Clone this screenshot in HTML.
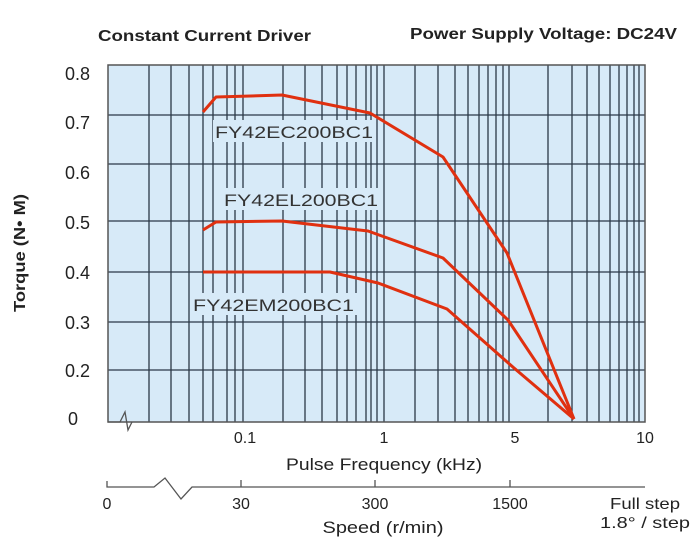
<!DOCTYPE html>
<html><head><style>body{margin:0;background:#fff}svg{display:block}</style></head><body>
<svg width="700" height="560" xmlns="http://www.w3.org/2000/svg" font-family="Liberation Sans, sans-serif">
<rect x="108" y="65" width="537" height="357" fill="#d7eaf8"/>
<g stroke="#2b3847" stroke-width="1.3">
<line x1="108" y1="115" x2="645" y2="115"/><line x1="108" y1="164" x2="645" y2="164"/><line x1="108" y1="221" x2="645" y2="221"/><line x1="108" y1="272" x2="645" y2="272"/><line x1="108" y1="322" x2="645" y2="322"/><line x1="108" y1="370" x2="645" y2="370"/>
<line x1="149" y1="65" x2="149" y2="422"/><line x1="171" y1="65" x2="171" y2="422"/><line x1="189" y1="65" x2="189" y2="422"/><line x1="203" y1="65" x2="203" y2="422"/><line x1="213" y1="65" x2="213" y2="422"/><line x1="227" y1="65" x2="227" y2="422"/><line x1="235" y1="65" x2="235" y2="422"/><line x1="243" y1="65" x2="243" y2="422"/><line x1="283" y1="65" x2="283" y2="422"/><line x1="305" y1="65" x2="305" y2="422"/><line x1="322" y1="65" x2="322" y2="422"/><line x1="337" y1="65" x2="337" y2="422"/><line x1="347" y1="65" x2="347" y2="422"/><line x1="356" y1="65" x2="356" y2="422"/><line x1="366" y1="65" x2="366" y2="422"/><line x1="371" y1="65" x2="371" y2="422"/><line x1="377" y1="65" x2="377" y2="422"/><line x1="384" y1="65" x2="384" y2="422"/><line x1="415" y1="65" x2="415" y2="422"/><line x1="438" y1="65" x2="438" y2="422"/><line x1="455" y1="65" x2="455" y2="422"/><line x1="468" y1="65" x2="468" y2="422"/><line x1="479" y1="65" x2="479" y2="422"/><line x1="488" y1="65" x2="488" y2="422"/><line x1="496" y1="65" x2="496" y2="422"/><line x1="503" y1="65" x2="503" y2="422"/><line x1="509" y1="65" x2="509" y2="422"/><line x1="548" y1="65" x2="548" y2="422"/><line x1="572" y1="65" x2="572" y2="422"/><line x1="587" y1="65" x2="587" y2="422"/><line x1="599" y1="65" x2="599" y2="422"/><line x1="610" y1="65" x2="610" y2="422"/><line x1="619" y1="65" x2="619" y2="422"/><line x1="627" y1="65" x2="627" y2="422"/><line x1="634" y1="65" x2="634" y2="422"/><line x1="639" y1="65" x2="639" y2="422"/>
</g>
<rect x="108" y="65" width="537" height="357" fill="none" stroke="#555" stroke-width="1.5"/>
<path d="M108 422 H120 L125 412 L128 430 L132 422" fill="none" stroke="#555" stroke-width="1.3"/>
<g fill="#d7eaf8">
<rect x="213" y="120" width="162" height="22"/><rect x="222" y="188" width="158" height="22"/><rect x="191" y="293" width="166" height="22"/>
</g>
<g font-size="17" fill="#333">
<text x="215" y="138" textLength="158" lengthAdjust="spacingAndGlyphs">FY42EC200BC1</text><text x="224" y="206" textLength="154" lengthAdjust="spacingAndGlyphs">FY42EL200BC1</text><text x="193" y="311" textLength="161" lengthAdjust="spacingAndGlyphs">FY42EM200BC1</text>
</g>
<g fill="none" stroke="#e03010" stroke-width="3" stroke-linejoin="round">
<polyline points="203,112 216,97 282,95 370,113 443,157 507,253 574,419"/>
<polyline points="203,230 216,222 282,221 368,231 443,258 508,320 574,419"/>
<polyline points="203,272 330,272 378,283 447,309 514,368 574,419"/>
</g>
<g font-size="18" fill="#222" text-anchor="end">
<text x="90" y="80">0.8</text><text x="90" y="129">0.7</text><text x="90" y="179">0.6</text><text x="90" y="229">0.5</text><text x="90" y="279">0.4</text><text x="90" y="329">0.3</text><text x="90" y="377">0.2</text><text x="78" y="425">0</text>
</g>
<g font-size="16" fill="#222" text-anchor="middle">
<text x="245" y="443">0.1</text><text x="384" y="443">1</text><text x="515" y="443">5</text><text x="645" y="443">10</text>
<text x="384" y="470" font-size="17" textLength="196" lengthAdjust="spacingAndGlyphs">Pulse Frequency (kHz)</text>
<text x="107" y="509">0</text><text x="241" y="509">30</text><text x="375" y="509">300</text><text x="510" y="509">1500</text>
<text x="383" y="533" font-size="17" textLength="121" lengthAdjust="spacingAndGlyphs">Speed (r/min)</text>
<text x="645" y="509" textLength="70" lengthAdjust="spacingAndGlyphs">Full step</text><text x="645" y="528" textLength="90" lengthAdjust="spacingAndGlyphs">1.8° / step</text>
</g>
<path d="M107 481 V487 H154 L165 478 L181 499 L192 487 H645 M241 487 V480 M375 487 V480 M510 487 V480" fill="none" stroke="#555" stroke-width="1.3"/>
<text x="98" y="41" font-size="16" font-weight="bold" fill="#222" textLength="213" lengthAdjust="spacingAndGlyphs">Constant Current Driver</text>
<text x="410" y="39" font-size="16" font-weight="bold" fill="#222" textLength="267" lengthAdjust="spacingAndGlyphs">Power Supply Voltage: DC24V</text>
<text transform="translate(25,253) rotate(-90)" font-size="16" font-weight="bold" fill="#222" text-anchor="middle" textLength="118" lengthAdjust="spacingAndGlyphs">Torque (N• M)</text>
</svg>
</body></html>
